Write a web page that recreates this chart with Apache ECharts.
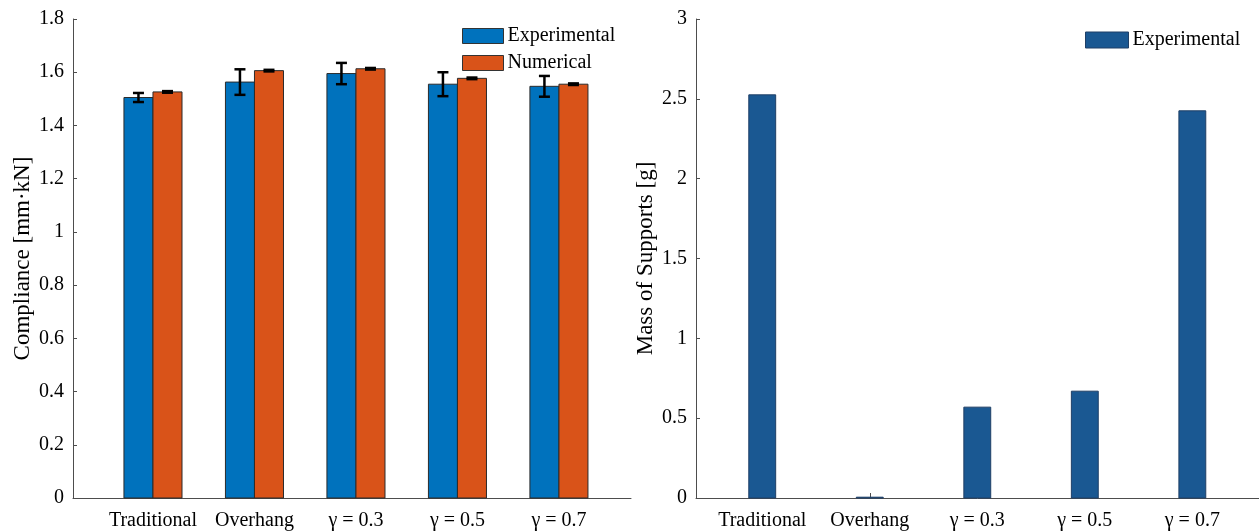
<!DOCTYPE html>
<html>
<head>
<meta charset="utf-8">
<script src="https://cdn.jsdelivr.net/npm/echarts@6/dist/echarts.min.js"></script>
<style>
  html, body { margin: 0; padding: 0; background: #fff; }
  #chart { width: 1259px; height: 531px; }
</style>
</head>
<body>
<div id="chart"></div>
<script>
// Specimen designs along the x axis
const categories = ['Traditional', 'Overhang', 'γ = 0.3', 'γ = 0.5', 'γ = 0.7'];

// Compliance [mm·kN]: measured mean with spread, and simulated value
const complianceExp = [1.505, 1.563, 1.595, 1.555, 1.547];
const complianceExpErr = [0.017, 0.048, 0.040, 0.045, 0.039];
const complianceNum = [1.526, 1.606, 1.613, 1.577, 1.555];
const complianceNumErr = [0.003, 0.003, 0.003, 0.003, 0.003];

// Mass of support material [g]
const supportMass = [2.525, 0.005, 0.569, 0.669, 2.425];

// Axis ticks
const complianceTicks = [0, 0.2, 0.4, 0.6, 0.8, 1, 1.2, 1.4, 1.6, 1.8];
const massTicks = [0, 0.5, 1, 1.5, 2, 2.5, 3];

const FONT = "'Liberation Serif', 'Times New Roman', serif";
const BLUE = '#0072BD';
const ORANGE = '#D95319';
const DARK_BLUE = '#1A5892';
const AXIS = '#4d4d4d';

const positions = categories.map((_, i) => i + 1);

function barRenderer(offset, width, fill, stroke) {
  return function (params, api) {
    const x = api.value(0);
    const v = api.value(1);
    const p0 = api.coord([x + offset - width / 2, v]);
    const p1 = api.coord([x + offset + width / 2, 0]);
    return {
      type: 'rect',
      shape: { x: p0[0], y: p0[1], width: p1[0] - p0[0], height: p1[1] - p0[1] },
      style: { fill: fill, stroke: stroke, lineWidth: 1 }
    };
  };
}

function errorRenderer(offset, capPx) {
  return function (params, api) {
    const x = api.value(0) + offset;
    const lo = api.coord([x, api.value(1)]);
    const hi = api.coord([x, api.value(2)]);
    const style = { stroke: '#000', lineWidth: 2.5 };
    return {
      type: 'group',
      children: [
        { type: 'line', shape: { x1: lo[0], y1: lo[1], x2: hi[0], y2: hi[1] }, style: style },
        { type: 'line', shape: { x1: lo[0] - capPx / 2, y1: lo[1], x2: lo[0] + capPx / 2, y2: lo[1] }, style: style },
        { type: 'line', shape: { x1: hi[0] - capPx / 2, y1: hi[1], x2: hi[0] + capPx / 2, y2: hi[1] }, style: style }
      ]
    };
  };
}

function xAxisFor(gridIndex, min, max) {
  return {
    type: 'value', gridIndex: gridIndex, min: min, max: max,
    splitLine: { show: false },
    axisLine: { show: true, lineStyle: { color: AXIS, width: 1 } },
    axisTick: { show: true, inside: true, length: 5, customValues: positions, lineStyle: { color: AXIS } },
    axisLabel: {
      customValues: positions, margin: 13,
      formatter: v => categories[Math.round(v) - 1] || '',
      color: '#000', fontFamily: FONT, fontSize: 20
    }
  };
}

function yAxisFor(gridIndex, max, interval, name) {
  return {
    type: 'value', gridIndex: gridIndex, min: 0, max: max, interval: interval,
    name: name, nameLocation: 'middle', nameGap: 39, nameRotate: 90,
    nameTextStyle: { color: '#000', fontFamily: FONT, fontSize: 23 },
    splitLine: { show: false },
    axisLine: { show: true, lineStyle: { color: AXIS, width: 1 } },
    axisTick: { show: true, inside: true, length: 4, lineStyle: { color: AXIS } },
    axisLabel: { color: '#000', fontFamily: FONT, fontSize: 20, margin: 9 }
  };
}

const barW1 = 0.286;
const barW2 = 0.25;

const option = {
  animation: false,
  backgroundColor: '#ffffff',
  grid: [
    { left: 73, top: 19, width: 558, height: 480 },
    { left: 696, top: 19, width: 563, height: 480 }
  ],
  xAxis: [xAxisFor(0, 0.212, 5.71), xAxisFor(1, 0.384, 5.62)],
  yAxis: [
    yAxisFor(0, complianceTicks[complianceTicks.length - 1], complianceTicks[1] - complianceTicks[0], 'Compliance [mm·kN]'),
    yAxisFor(1, massTicks[massTicks.length - 1], massTicks[1] - massTicks[0], 'Mass of Supports [g]')
  ],
  legend: [
    {
      left: 457, top: 21, orient: 'vertical', itemGap: 7,
      itemWidth: 41, itemHeight: 15, icon: 'rect',
      textStyle: { color: '#000', fontFamily: FONT, fontSize: 20, padding: [0, 0, 0, -1] },
      data: [
        { name: 'Experimental', itemStyle: { color: BLUE, borderColor: '#333', borderWidth: 1 } },
        { name: 'Numerical', itemStyle: { color: ORANGE, borderColor: '#333', borderWidth: 1 } }
      ],
      selectedMode: false
    },
    {
      left: 1080, top: 25, orient: 'vertical',
      itemWidth: 43, itemHeight: 16, icon: 'rect',
      textStyle: { color: '#000', fontFamily: FONT, fontSize: 20, padding: [0, 0, 0, -1] },
      data: [
        { name: 'Experimental', itemStyle: { color: DARK_BLUE, borderColor: '#1f3f66', borderWidth: 1 } }
      ],
      selectedMode: false
    }
  ],
  series: [
    {
      name: 'Experimental', type: 'custom', xAxisIndex: 0, yAxisIndex: 0,
      itemStyle: { color: BLUE },
      renderItem: barRenderer(-barW1 / 2, barW1, BLUE, '#2b2b2b'),
      encode: { x: 0, y: 1 },
      data: complianceExp.map((v, i) => [positions[i], v])
    },
    {
      name: 'Numerical', type: 'custom', xAxisIndex: 0, yAxisIndex: 0,
      itemStyle: { color: ORANGE },
      renderItem: barRenderer(barW1 / 2, barW1, ORANGE, '#2b2b2b'),
      encode: { x: 0, y: 1 },
      data: complianceNum.map((v, i) => [positions[i], v])
    },
    {
      name: 'Experimental spread', type: 'custom', xAxisIndex: 0, yAxisIndex: 0,
      renderItem: errorRenderer(-barW1 / 2, 11),
      encode: { x: 0, y: [1, 2] }, z: 5,
      data: complianceExp.map((v, i) => [positions[i], v - complianceExpErr[i], v + complianceExpErr[i]])
    },
    {
      name: 'Numerical spread', type: 'custom', xAxisIndex: 0, yAxisIndex: 0,
      renderItem: errorRenderer(barW1 / 2, 11),
      encode: { x: 0, y: [1, 2] }, z: 5,
      data: complianceNum.map((v, i) => [positions[i], v - complianceNumErr[i], v + complianceNumErr[i]])
    },
    {
      name: 'Experimental', type: 'custom', xAxisIndex: 1, yAxisIndex: 1,
      itemStyle: { color: DARK_BLUE },
      renderItem: barRenderer(0, barW2, DARK_BLUE, '#1f3f66'),
      encode: { x: 0, y: 1 },
      data: supportMass.map((v, i) => [positions[i], v])
    }
  ]
};

const chart = echarts.init(document.getElementById('chart'), null, { renderer: 'canvas' });
chart.setOption(option);
</script>
</body>
</html>
